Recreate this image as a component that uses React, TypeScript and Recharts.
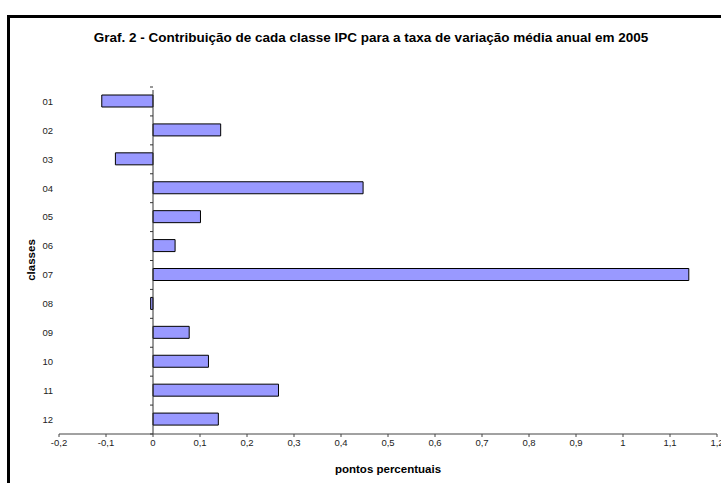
import { BarChart, Bar, XAxis, YAxis, ReferenceLine } from "recharts";

const classes = ["01", "02", "03", "04", "05", "06", "07", "08", "09", "10", "11", "12"];
const contribuicoes = [-0.109, 0.144, -0.08, 0.447, 0.101, 0.047, 1.14, -0.005, 0.077, 0.118, 0.267, 0.139];
const xTicks = [-0.2, -0.1, 0, 0.1, 0.2, 0.3, 0.4, 0.5, 0.6, 0.7, 0.8, 0.9, 1, 1.1, 1.2];

const data = classes.map((classe, i) => ({ classe, valor: contribuicoes[i] }));

const font = "'Liberation Sans', Arial, sans-serif";

// zero line with small marks at the category boundaries (Excel style)
function ZeroAxis(props: any) {
  const { x1, y1, x2, y2 } = props;
  const step = (y2 - y1) / classes.length;
  const marks = [];
  for (let k = 0; k <= classes.length; k++) {
    const y = y1 + k * step;
    marks.push(<line key={k} x1={x1 - 3} y1={y} x2={x1} y2={y} stroke="#333" strokeWidth={1} />);
  }
  return (
    <g>
      <line x1={x1} y1={y1} x2={x2} y2={y2 + 3} stroke="#333" strokeWidth={1} />
      {marks}
    </g>
  );
}

export default function App() {
  return (
    <div
      style={{
        position: "fixed",
        left: 0,
        top: 0,
        width: 721,
        height: 483,
        overflow: "hidden",
        background: "#fff",
        fontFamily: font,
      }}
    >
      <div
        style={{
          position: "absolute",
          left: 7,
          top: 15,
          width: 800,
          height: 600,
          borderLeft: "3px solid #000",
          borderTop: "3px solid #000",
        }}
      />

      <div
        style={{
          position: "absolute",
          left: 71,
          width: 600,
          top: 31,
          textAlign: "center",
          fontSize: 13.5,
          lineHeight: "14px",
          fontWeight: "bold",
          color: "#000",
          whiteSpace: "nowrap",
        }}
      >
        Graf. 2 - Contribuição de cada classe IPC para a taxa de variação média anual em 2005
      </div>

      <div style={{ position: "absolute", left: 0, top: 0 }}>
        <BarChart
          width={721}
          height={483}
          data={data}
          layout="vertical"
          margin={{ top: 87, right: 4, bottom: 0, left: 0 }}
        >
          <XAxis
            type="number"
            domain={[-0.2, 1.2]}
            ticks={xTicks}
            interval={0}
            allowDataOverflow
            height={49}
            tickSize={3}
            tickMargin={2}
            stroke="#444"
            tick={{ fill: "#222", fontSize: 9.5, fontFamily: font }}
            tickFormatter={(v: number) => String(v).replace(".", ",")}
          />
          <YAxis
            type="category"
            dataKey="classe"
            width={59}
            axisLine={false}
            tickLine={false}
            tickSize={0}
            tickMargin={6}
            interval={0}
            tick={{ fill: "#222", fontSize: 9.5, fontFamily: font }}
          />
          <Bar
            dataKey="valor"
            barSize={12}
            fill="#9999FF"
            stroke="#000"
            strokeWidth={1}
            isAnimationActive={false}
          />
          <ReferenceLine x={0} shape={ZeroAxis} ifOverflow="extendDomain" />
        </BarChart>
      </div>

      <div
        style={{
          position: "absolute",
          left: 188,
          width: 400,
          top: 464,
          textAlign: "center",
          fontSize: 11.5,
          lineHeight: "11px",
          fontWeight: "bold",
          color: "#000",
        }}
      >
        pontos percentuais
      </div>

      <div
        style={{
          position: "absolute",
          left: 31,
          top: 260,
          transform: "translate(-50%, -50%) rotate(-90deg)",
          fontSize: 11.5,
          lineHeight: "11px",
          fontWeight: "bold",
          color: "#000",
          whiteSpace: "nowrap",
        }}
      >
        classes
      </div>
    </div>
  );
}
